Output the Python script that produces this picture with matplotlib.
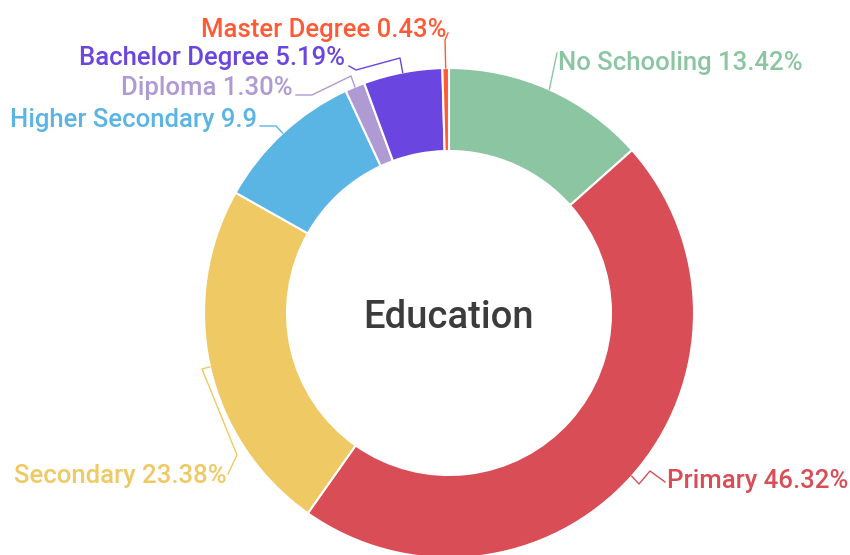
import numpy as np
import matplotlib
matplotlib.use("Agg")
import matplotlib.pyplot as plt

plt.rcParams["font.family"] = ["Roboto", "DejaVu Sans"]

levels = ["No Schooling", "Primary", "Secondary", "Higher Secondary",
          "Diploma", "Bachelor Degree", "Master Degree"]
shares = [13.42, 46.32, 23.38, 9.9, 1.30, 5.19, 0.43]
share_text = ["13.42%", "46.32%", "23.38%", "9.9", "1.30%", "5.19%", "0.43%"]
slice_colors = ["#8cc5a2", "#d94d57", "#efc964", "#5bb5e4",
                "#b09ad4", "#6a45e0", "#ff5a36"]

# layout in pixel units (y grows downwards)
center = (449, 313)
outer_r = 245
ring_w = 83
# label anchor: (x, baseline y, alignment)
label_pos = [(558, 70, "left"), (667, 488, "left"), (227, 483, "right"),
             (257, 127, "right"), (293, 95, "right"), (345, 65, "right"),
             (447, 37, "right")]
# bend points of each leader line, after it leaves the ring
leader_bends = [
    [(557, 53)],
    [(639, 484), (650, 471), (665, 482)],
    [(202, 369), (237, 455), (228, 474)],
    [(276, 126), (260, 126)],
    [(351, 76), (312, 95), (296, 95)],
    [(400, 58), (356, 70), (349, 66)],
    [(445, 40), (448, 33)],
]

fig = plt.figure(figsize=(8.5, 5.55), dpi=100)
ax = fig.add_axes([0, 0, 1, 1])

wedges, _ = ax.pie(shares, colors=slice_colors, startangle=-90, counterclock=True,
                   radius=outer_r, center=center,
                   wedgeprops=dict(width=ring_w, edgecolor="white", linewidth=1.5))
ax.set_xlim(0, 850)
ax.set_ylim(555, 0)
ax.axis("off")

for w, name, txt, col, (tx, ty, ha), bends in zip(wedges, levels, share_text, slice_colors,
                                                  label_pos, leader_bends):
    mid = np.deg2rad((w.theta1 + w.theta2) / 2)
    sx = center[0] + outer_r * np.cos(mid)
    sy = center[1] + outer_r * np.sin(mid)
    xs = [sx] + [p[0] for p in bends]
    ys = [sy] + [p[1] for p in bends]
    ax.plot(xs, ys, color=col, lw=1.0, solid_joinstyle="round")
    ax.text(tx, ty, f"{name} {txt}", color=col, ha=ha, va="baseline",
            fontsize=18.5, fontweight="medium")

ax.text(center[0], 328, "Education", color="#3c3c3c", ha="center", va="baseline",
        fontsize=27.5, fontweight="medium")

fig.savefig("out.png", dpi=100, facecolor="white")
